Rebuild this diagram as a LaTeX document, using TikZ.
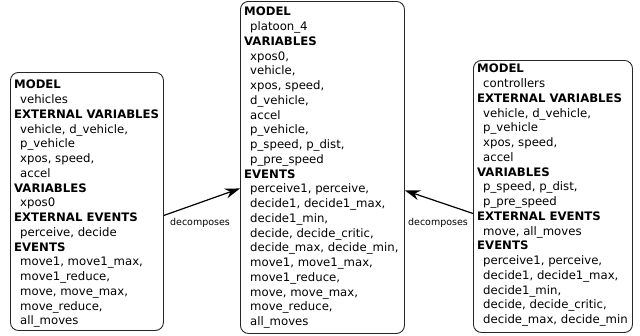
\documentclass[tikz,border=0pt]{standalone}
\usepackage{fontspec}
\setmainfont{DejaVu Sans}
\usetikzlibrary{arrows.meta,calc}
\tikzset{
  box/.style={draw=black!85, line width=0.9pt, rounded corners=8pt, inner sep=0pt, anchor=north west},
  txt/.style={align=left, inner sep=0pt, anchor=north west, font=\fontsize{11.7}{14.75}\selectfont},
  arr/.style={line width=1.2pt, -{Stealth[length=15pt,width=10pt]}},
  lbl/.style={font=\fontsize{9.5}{10}\selectfont, inner sep=0pt}
}
\newcommand{\hd}[1]{\textbf{#1}}
\newcommand{\ind}{\hspace*{6pt}}
\begin{document}
\begin{tikzpicture}[x=1pt,y=-1pt]
\useasboundingbox (0,0) rectangle (640,335);
% boxes
\node[box, minimum width=153pt, minimum height=258pt] (vehicles) at (10,72) {};
\node[box, minimum width=164pt, minimum height=332pt] (platoon) at (240,1) {};
\node[box, minimum width=159pt, minimum height=272pt] (controllers) at (473,60) {};
% texts
\node[txt] (vehiclesText) at ($(vehicles.north west)+(4,8)$) {\hd{MODEL}\\
\ind vehicles\\
\hd{EXTERNAL VARIABLES}\\
\ind vehicle, d\_vehicle,\\
\ind p\_vehicle\\
\ind xpos, speed,\\
\ind accel\\
\hd{VARIABLES}\\
\ind xpos0\\
\hd{EXTERNAL EVENTS}\\
\ind perceive, decide\\
\hd{EVENTS}\\
\ind move1, move1\_max,\\
\ind move1\_reduce,\\
\ind move, move\_max,\\
\ind move\_reduce,\\
\ind all\_moves};
\node[txt] (platoonText) at ($(platoon.north west)+(4,6)$) {\hd{MODEL}\\
\ind platoon\_4\\
\hd{VARIABLES}\\
\ind xpos0,\\
\ind vehicle,\\
\ind xpos, speed,\\
\ind d\_vehicle,\\
\ind accel\\
\ind p\_vehicle,\\
\ind p\_speed, p\_dist,\\
\ind p\_pre\_speed\\
\hd{EVENTS}\\
\ind perceive1, perceive,\\
\ind decide1, decide1\_max,\\
\ind decide1\_min,\\
\ind decide, decide\_critic,\\
\ind decide\_max, decide\_min,\\
\ind move1, move1\_max,\\
\ind move1\_reduce,\\
\ind move, move\_max,\\
\ind move\_reduce,\\
\ind all\_moves};
\node[txt] (controllersText) at ($(controllers.north west)+(4,4)$) {\hd{MODEL}\\
\ind controllers\\
\hd{EXTERNAL VARIABLES}\\
\ind vehicle, d\_vehicle,\\
\ind p\_vehicle\\
\ind xpos, speed,\\
\ind accel\\
\hd{VARIABLES}\\
\ind p\_speed, p\_dist,\\
\ind p\_pre\_speed\\
\hd{EXTERNAL EVENTS}\\
\ind move, all\_moves\\
\hd{EVENTS}\\
\ind perceive1, perceive,\\
\ind decide1, decide1\_max,\\
\ind decide1\_min,\\
\ind decide, decide\_critic,\\
\ind decide\_max, decide\_min};
% connectors
\draw[arr] ($(vehicles.north east)!0.554!(vehicles.south east)$) -- ($(platoon.north west)!0.563!(platoon.south west)$);
\draw[arr] ($(controllers.north west)!0.5625!(controllers.south west)$) -- ($(platoon.north east)!0.569!(platoon.south east)$);
\node[lbl] (lblLeft) at (200,223) {decomposes};
\node[lbl] (lblRight) at (438,223) {decomposes};
\end{tikzpicture}
\end{document}
